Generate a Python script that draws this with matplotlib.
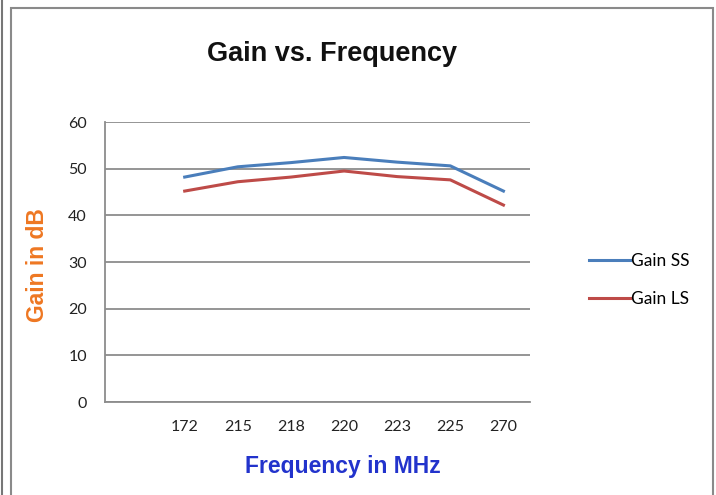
import matplotlib
matplotlib.use("Agg")
import matplotlib.pyplot as plt
from matplotlib.patches import Rectangle
from matplotlib.lines import Line2D

categories = ["172", "215", "218", "220", "223", "225", "270"]
gain_ss = [48.2, 50.4, 51.3, 52.4, 51.4, 50.6, 45.2]
gain_ls = [45.2, 47.2, 48.2, 49.5, 48.3, 47.6, 42.2]
yticks = [0, 10, 20, 30, 40, 50, 60]

W, H = 716, 495
fig = plt.figure(figsize=(W / 100, H / 100), dpi=100)

# outer frames
fig.add_artist(Line2D([1.5 / W, 1.5 / W], [0, 1], transform=fig.transFigure,
                      color="#777777", lw=1.5))
fig.add_artist(Rectangle((11 / W, -0.01), (713 - 11) / W, 1 - 8 / H + 0.01,
                         transform=fig.transFigure, fill=False,
                         edgecolor="#8a8a8a", lw=1.5))

ax = fig.add_axes([105 / W, 1 - 402 / H, (530 - 105) / W, (402 - 122) / H])
x = list(range(len(categories)))
ax.plot(x, gain_ss, color="#4A7EBB", lw=2.2, label="Gain SS")
ax.plot(x, gain_ls, color="#BE4B48", lw=2.2, label="Gain LS")

ax.set_xlim(-1.5, len(categories) - 0.5)
ax.set_ylim(0, 60)
ax.set_yticks(yticks)
ax.set_yticklabels([str(v) for v in yticks], family="Lato", fontsize=11.5, color="#222222")
ax.set_xticks(x)
ax.set_xticklabels(categories, family="Lato", fontsize=11.5, color="#222222")
ax.tick_params(axis="y", length=0, pad=13)
ax.tick_params(axis="x", length=0, pad=13)
ax.grid(axis="y", color="#8c8c8c", lw=1.3)
ax.set_axisbelow(True)
for s in ["top", "right"]:
    ax.spines[s].set_visible(False)
for s in ["left", "bottom"]:
    ax.spines[s].set_color("#8c8c8c")
    ax.spines[s].set_linewidth(1.3)

fig.text(332 / W, 1 - 54 / H, "Gain vs. Frequency", ha="center", va="center",
         family="Liberation Sans", fontweight="bold", fontsize=19.5, color="#111111")
fig.text(37 / W, 1 - 265 / H, "Gain in dB", ha="center", va="center", rotation=90,
         family="Liberation Sans", fontweight="bold", fontsize=16.5, color="#EE7722")
fig.text(343 / W, 1 - 466 / H, "Frequency in MHz", ha="center", va="center",
         family="Liberation Sans", fontweight="bold", fontsize=16.5, color="#2233CC")

leg = ax.legend(loc="center left", bbox_to_anchor=(573 / W, 1 - 280 / H),
                bbox_transform=fig.transFigure, frameon=False,
                prop={"family": "Lato", "size": 12.5}, handlelength=2.4,
                handletextpad=0.05, labelspacing=1.25)

fig.savefig("out.png", dpi=100)
